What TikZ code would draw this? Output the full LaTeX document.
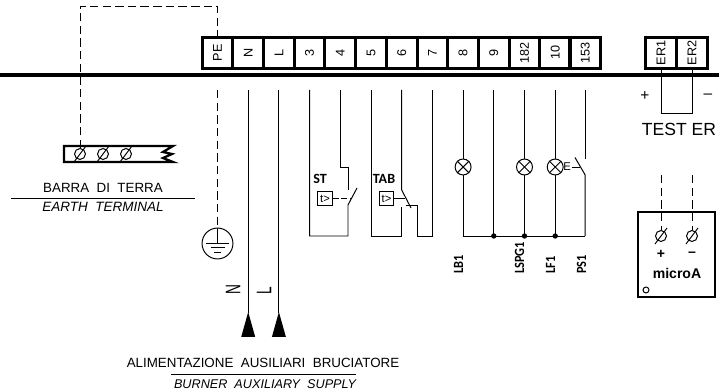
\documentclass[tikz,border=0pt]{standalone}
\usepackage{fontspec}
\setmainfont{Liberation Sans}
\newfontfamily\tagfont{Carlito}
\newcommand{\vtag}[1]{\scalebox{0.88}[1]{#1}}
\usetikzlibrary{positioning}

\tikzset{
    wire/.style={line width=0.7pt},
    dashwire/.style={line width=0.7pt, dash pattern=on 6pt off 3pt},
    termbox/.style={draw, line width=2pt, minimum width=30.7*0.709pt, minimum height=31*0.709pt, inner sep=0pt, font=\fontsize{9}{9}\selectfont},
    screwhead/.style={draw, circle, line width=0.7pt, minimum size=11*0.709pt, inner sep=0pt},
    lamp/.style={draw, circle, line width=0.7pt, minimum size=16*0.709pt, inner sep=0pt},
    timerbox/.style={draw, line width=0.7pt, minimum width=15*0.709pt, minimum height=15*0.709pt, inner sep=0pt, font=\fontsize{8}{8}\selectfont},
    junction/.style={fill, circle, minimum size=3.8pt, inner sep=0pt},
    tag/.style={font=\fontsize{10}{10}\tagfont\bfseries, inner sep=0pt},
    bigtag/.style={rotate=90, inner sep=0pt, font=\fontsize{15}{15}\selectfont},
    caption/.style={font=\fontsize{9.5}{9.5}\selectfont, inner sep=0pt}
}

\begin{document}
\begin{tikzpicture}[x=0.025cm, y=-0.025cm]
    \useasboundingbox (0,0) rectangle (719,392);

    % Terminal strip
    \foreach \tname/\tlabel/\tx in {PE/PE/217.5, N/N/248.2, L/L/278.9, 3/3/309.6, 4/4/340.3, 5/5/371, 6/6/401.7, 7/7/432.4, 8/8/463.1, 9/9/493.8, 182/182/524.5, 10/10/555.2, 153/153/585.2, ER1/ER1/661, ER2/ER2/692}
        \node[termbox] (t\tname) at (\tx,52.8) {\rotatebox{90}{\tlabel}};

    % Main bus line
    \coordinate (busL) at (0,75);
    \coordinate (busR) at (719,75);
    \draw[line width=2.2pt] (busL) -- (busR);

    % Earth bar
    \coordinate (barNW) at (64,146);
    \coordinate (barNE) at (173,146);
    \coordinate (barSW) at (64,162);
    \coordinate (barSE) at (173,162);
    \draw[line width=1.6pt] (barNE) -- (barNW) -- (barSW) -- (barSE) -- (163,158) -- (172,154) -- (163,152) -- cycle;
    \foreach \sname/\sx in {a/80, b/103, c/126} {
        \node[screwhead] (bar\sname) at (\sx,154) {};
        \draw[wire] ([shift={(-6,8)}]bar\sname.center) -- ([shift={(6,-8)}]bar\sname.center);
    }

    % Earth link
    \coordinate (topA) at (80,6);
    \coordinate (topB) at (217.5,6);
    \draw[dashwire] (bara.north) -- (topA) -- (topB) -- (tPE.north);

    % Earth symbol
    \node[draw, circle, line width=0.7pt, minimum size=31*0.709pt, inner sep=0pt] (earth) at (217.5,243.5) {};
    \coordinate (peTop) at (217.5,90);
    \draw[dashwire] (peTop) -- (earth.north);
    \draw[wire] (earth.north) -- (earth.center);
    \draw[wire] ([shift={(-11.5,0)}]earth.center) -- ([shift={(11.5,0)}]earth.center);
    \draw[wire] ([shift={(-7,4)}]earth.center) -- ([shift={(7,4)}]earth.center);
    \draw[wire] ([shift={(-3.5,9)}]earth.center) -- ([shift={(3.5,9)}]earth.center);

    % Supply wires N and L
    \coordinate (tipLevel) at (0,313);
    \foreach \tname in {N, L} {
        \coordinate (top\tname) at (t\tname.center |- peTop);
        \coordinate (tip\tname) at (t\tname.center |- tipLevel);
        \draw[wire] (top\tname) -- (tip\tname);
        \fill ([shift={(0,-1)}]tip\tname.center) -- ([shift={(7,24)}]tip\tname.center) -- ([shift={(-7,24)}]tip\tname.center) -- cycle;
    }

    \node[bigtag] (labN) at (233,290) {\scalebox{0.65}[1]{N}};
    \node[bigtag] (labL) at (264,291) {\scalebox{0.65}[1]{L}};

    % ST contact
    \coordinate (a3) at (t3.center |- peTop);
    \coordinate (b3) at (309.6,236);
    \coordinate (a4) at (t4.center |- peTop);
    \coordinate (k4) at (340.3,167);
    \coordinate (j4) at (348,167);
    \coordinate (c4) at (348,190);
    \coordinate (d4) at (348,205);
    \coordinate (e4) at (357,188);
    \coordinate (f4) at (348,236);
    \draw[wire] (a3) -- (b3) -- (f4) -- (d4) -- (e4);
    \draw[wire] (a4) -- (k4) -- (j4) -- (c4);
    \node[timerbox] (timerST) at (325,198.5) {t>};
    \node[tag] (labST) at (320,179) {ST};
    \coordinate (stHit) at (352,198.5);
    \draw[wire, dash pattern=on 4pt off 2pt] (timerST) -- (stHit);

    % TAB contact
    \coordinate (a5) at (t5.center |- peTop);
    \coordinate (b5) at (371,236);
    \coordinate (a6) at (t6.center |- peTop);
    \coordinate (c6) at (401.7,190);
    \coordinate (e6) at (411,208);
    \coordinate (d6) at (401.7,236);
    \coordinate (g6) at (401.7,207);
    \coordinate (i6) at (406,205.5);
    \coordinate (h6) at (417,205.5);
    \coordinate (m6) at (417,236);
    \coordinate (a7) at (t7.center |- peTop);
    \coordinate (b7) at (432.4,236);
    \draw[wire] (a5) -- (b5) -- (d6) -- (g6);
    \draw[wire] (a6) -- (c6) -- (e6);
    \draw[wire] (i6) -- (h6) -- (m6) -- (b7) -- (a7);
    \node[timerbox] (timerTAB) at (386.5,198.5) {t>};
    \node[tag] (labTAB) at (384,179) {TAB};
    \coordinate (tabHit) at (405,198.5);
    \draw[wire] (timerTAB) -- (tabHit);

    % Lamps and bottom link
    \foreach \tname/\lname in {8/LB1, 182/LSPG1, 10/LF1} {
        \coordinate (a\tname) at (t\tname.center |- peTop);
        \coordinate (b\tname) at (t\tname.center |- b3);
        \node[lamp] (lamp\tname) at (t\tname.center |- k4) {};
        \draw[wire] (a\tname) -- (lamp\tname) -- (b\tname);
        \draw[wire] (lamp\tname.north west) -- (lamp\tname.south east);
        \draw[wire] (lamp\tname.north east) -- (lamp\tname.south west);
    }
    \coordinate (a9) at (t9.center |- peTop);
    \coordinate (b9) at (t9.center |- b3);
    \draw[wire] (a9) -- (b9);

    % PS1 contact
    \coordinate (a153) at (t153.center |- peTop);
    \coordinate (c153) at (585.2,159);
    \coordinate (d153) at (585.2,175);
    \coordinate (e153) at (575,157.5);
    \coordinate (b153) at (t153.center |- b3);
    \draw[wire] (a153) -- (c153);
    \draw[wire] (e153) -- (d153) -- (b153);
    \draw[wire] (b8) -- (b153);
    \node[inner sep=0pt, font=\fontsize{8}{8}\selectfont] (labE) at (567,167) {E};
    \coordinate (ps1L) at (572,167);
    \coordinate (ps1R) at (580,167);
    \draw[wire] (ps1L) -- (ps1R);

    \foreach \jname in {9, 182, 10}
        \node[junction] (dot\jname) at (b\jname) {};

    % Vertical tags under the link
    \node[tag, rotate=90, anchor=west] (tagLB1) at (458.5,274) {\vtag{LB1}};
    \node[tag, rotate=90, anchor=west] (tagLSPG1) at (519.5,274) {\vtag{LSPG1}};
    \node[tag, rotate=90, anchor=west] (tagLF1) at (550.5,274) {\vtag{LF1}};
    \node[tag, rotate=90, anchor=west] (tagPS1) at (581.5,274) {\vtag{PS1}};

    % Test ER loop
    \coordinate (er1low) at (661,113);
    \coordinate (er2low) at (692,113);
    \draw[wire] (tER1.south) -- (er1low) -- (er2low) -- (tER2.south);
    \node[inner sep=0pt, font=\fontsize{11}{11}\selectfont] (plusER) at (645,96) {+};
    \node[inner sep=0pt, font=\fontsize{11}{11}\selectfont] (minusER) at (708,96) {--};
    \node[inner sep=0pt, font=\fontsize{12.5}{12.5}\selectfont] (testER) at (679,129) {TEST\ ER};

    % microA instrument
    \node[draw, line width=1.6pt, minimum width=77*0.709pt, minimum height=85*0.709pt, inner sep=0pt] (microbox) at (676.5,254.5) {};
    \foreach \sname/\sx/\ssign in {a/661/+, b/692/--} {
        \coordinate (microtop\sname) at (\sx,175);
        \node[screwhead] (micro\sname) at (\sx,236) {};
        \draw[dashwire] (microtop\sname) -- (micro\sname.north);
        \draw[wire] ([shift={(-6,8)}]micro\sname.center) -- ([shift={(6,-8)}]micro\sname.center);
        \node[inner sep=0pt, font=\fontsize{10}{10}\selectfont\bfseries] (sign\sname) at (\sx,254) {\ssign};
    }
    \node[font=\fontsize{10}{10}\selectfont\bfseries, inner sep=0pt] (microlab) at (677,273) {microA};
    \node[draw, circle, line width=0.7pt, minimum size=6*0.709pt, inner sep=0pt] (microhole) at (646,290) {};

    % Captions
    \node[caption] (barIT) at (103,188) {BARRA\ \ DI\ \ TERRA};
    \coordinate (barRuleL) at (11,198);
    \coordinate (barRuleR) at (195,198);
    \draw[wire] (barRuleL) -- (barRuleR);
    \node[caption, font=\fontsize{9.6}{9.6}\selectfont\itshape] (barEN) at (103,207) {EARTH\ \ TERMINAL};

    \node[caption] (supIT) at (263,363) {ALIMENTAZIONE\ \ AUSILIARI\ \ BRUCIATORE};
    \coordinate (supRuleL) at (171,374);
    \coordinate (supRuleR) at (356,374);
    \draw[wire] (supRuleL) -- (supRuleR);
    \node[caption, font=\fontsize{9}{9}\selectfont\itshape] (supEN) at (265,384) {BURNER\ \ AUXILIARY\ \ SUPPLY};
\end{tikzpicture}
\end{document}
